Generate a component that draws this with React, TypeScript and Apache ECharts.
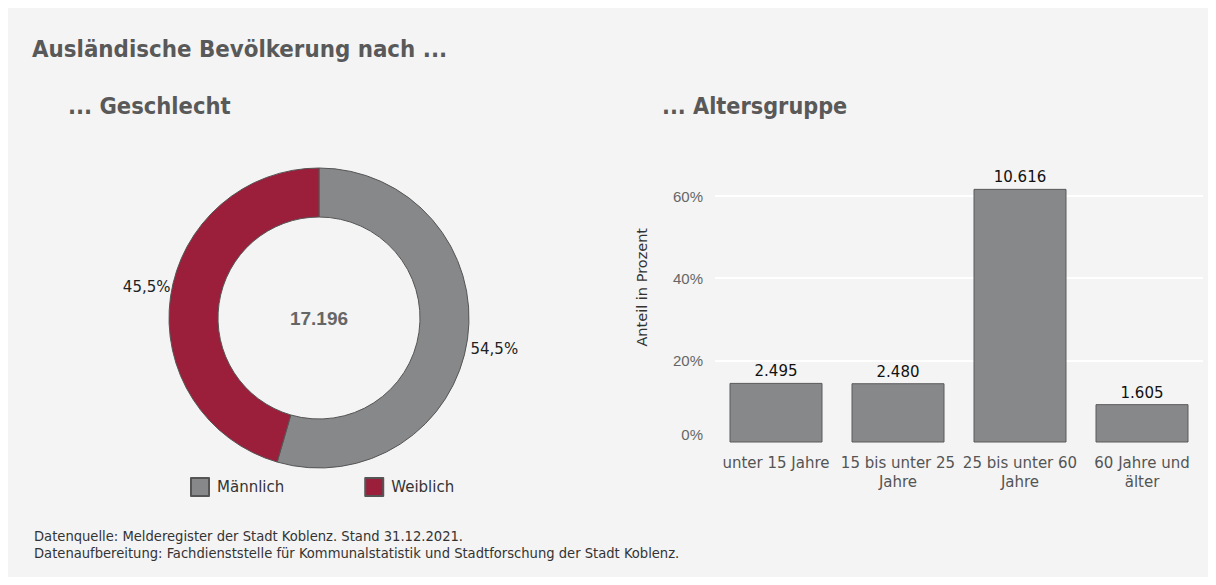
import React, { useEffect, useRef } from "react";
import * as echarts from "echarts";

const titleText = "Ausländische Bevölkerung nach ...";
const subtitleLeft = "... Geschlecht";
const subtitleRight = "... Altersgruppe";

const genderNames = ["Männlich", "Weiblich"];
const genderCounts = [9372, 7824];
const genderShareLabels = ["54,5%", "45,5%"];
const genderColors = ["#87888a", "#9b1f3b"];

const ageCategories = ["unter 15 Jahre", "15 bis unter 25\nJahre", "25 bis unter 60\nJahre", "60 Jahre und\nälter"];
const ageCounts = [2495, 2480, 10616, 1605];

const footnoteLines = [
  "Datenquelle: Melderegister der Stadt Koblenz. Stand 31.12.2021.",
  "Datenaufbereitung: Fachdienststelle für Kommunalstatistik und Stadtforschung der Stadt Koblenz.",
];

const condensed = "'Liberation Sans Narrow', 'DejaVu Sans Condensed', 'Roboto', sans-serif";
const sans = "'Liberation Sans', Arial, sans-serif";
const dejavu = "'DejaVu Sans', sans-serif";

const fmt = (n: number) => n.toLocaleString("de-DE");

export default function App() {
  const ref = useRef<HTMLDivElement>(null);
  useEffect(() => {
    if (!ref.current) return;
    const chart = echarts.init(ref.current, undefined, { renderer: "svg" });
    const total = ageCounts.reduce((a, b) => a + b, 0);
    const ageShare = ageCounts.map((c) => (c / total) * 100);
    chart.setOption({
      animation: false,
      backgroundColor: "#f4f4f4",
      graphic: [
        { type: "text", left: 24, top: 29, style: { text: titleText, font: `bold 23.8px ${condensed}`, fill: "#595959" } },
        { type: "text", left: 60, top: 86, style: { text: subtitleLeft, font: `bold 23.5px ${condensed}`, fill: "#595959" } },
        { type: "text", left: 654, top: 86, style: { text: subtitleRight, font: `bold 23.2px ${condensed}`, fill: "#595959" } },
        {
          type: "text",
          x: 311,
          y: 310,
          style: { text: fmt(genderCounts.reduce((a, b) => a + b, 0)), font: `bold 19px ${sans}`, fill: "#666666", align: "center", verticalAlign: "middle" },
        },
        {
          type: "text",
          left: 26,
          top: 519,
          style: { text: footnoteLines.join("\n"), font: `14.6px ${condensed}`, fill: "#333333", lineHeight: 17 },
        },
      ],
      legend: {
        data: genderNames,
        left: 177,
        top: 464,
        icon: "rect",
        itemWidth: 18,
        itemHeight: 18,
        itemGap: 80,
        textStyle: { fontFamily: dejavu, fontSize: 15, color: "#333", padding: [0, 0, 0, 3] },
      },
      grid: { left: 707, right: 5, top: 188, bottom: 134.5 },
      xAxis: {
        type: "category",
        data: ageCategories,
        axisLine: { show: false },
        axisTick: { show: false },
        axisLabel: { fontFamily: dejavu, fontSize: 15, color: "#555", lineHeight: 19, margin: 11, interval: 0 },
      },
      yAxis: {
        type: "value",
        min: 0,
        max: 60,
        interval: 20,
        name: "Anteil in Prozent",
        nameLocation: "middle",
        nameGap: 66,
        nameTextStyle: { fontFamily: dejavu, fontSize: 14.5, color: "#333", padding: [0, 0, 0, 64] },
        axisLabel: {
          formatter: (v: number) => (v === 0 ? `{zero|${v}%}` : `${v}%`),
          fontFamily: sans,
          fontSize: 15,
          color: "#666",
          margin: 12,
          rich: { zero: { fontFamily: sans, fontSize: 15, color: "#666", padding: [0, 0, 16, 0] } },
        },
        splitLine: { showMinLine: false, lineStyle: { color: "#ffffff", width: 2 } },
        axisLine: { show: false },
        axisTick: { show: false },
      },
      series: [
        {
          type: "pie",
          center: [311, 310],
          radius: [101, 150],
          startAngle: 90,
          clockwise: true,
          data: genderNames.map((n, i) => ({ name: n, value: genderCounts[i], itemStyle: { color: genderColors[i] } })),
          itemStyle: { borderColor: "#555", borderWidth: 1 },
          label: {
            show: true,
            position: "outside",
            formatter: (p: any) => genderShareLabels[p.dataIndex],
            fontFamily: dejavu,
            fontSize: 15,
            color: "#222",
          },
          labelLine: { show: false, length: 0, length2: 0 },
          labelLayout: (p: any) => (p.dataIndex === 0 ? { dx: -2, dy: 10 } : { dx: 5, dy: -10 }),
          emphasis: { disabled: true },
        },
        {
          type: "bar",
          data: ageShare,
          barWidth: 93,
          clip: false,
          itemStyle: { color: "#87888a", borderColor: "#5a5a5a", borderWidth: 1 },
          label: {
            show: true,
            position: "top",
            distance: 4,
            formatter: (p: any) => fmt(ageCounts[p.dataIndex]),
            fontFamily: dejavu,
            fontSize: 15,
            color: "#111",
          },
          emphasis: { disabled: true },
        },
      ],
    });
    return () => chart.dispose();
  }, []);
  return (
    <div style={{ background: "#fff" }}>
      <div ref={ref} style={{ width: 1200, height: 569 }} />
    </div>
  );
}
